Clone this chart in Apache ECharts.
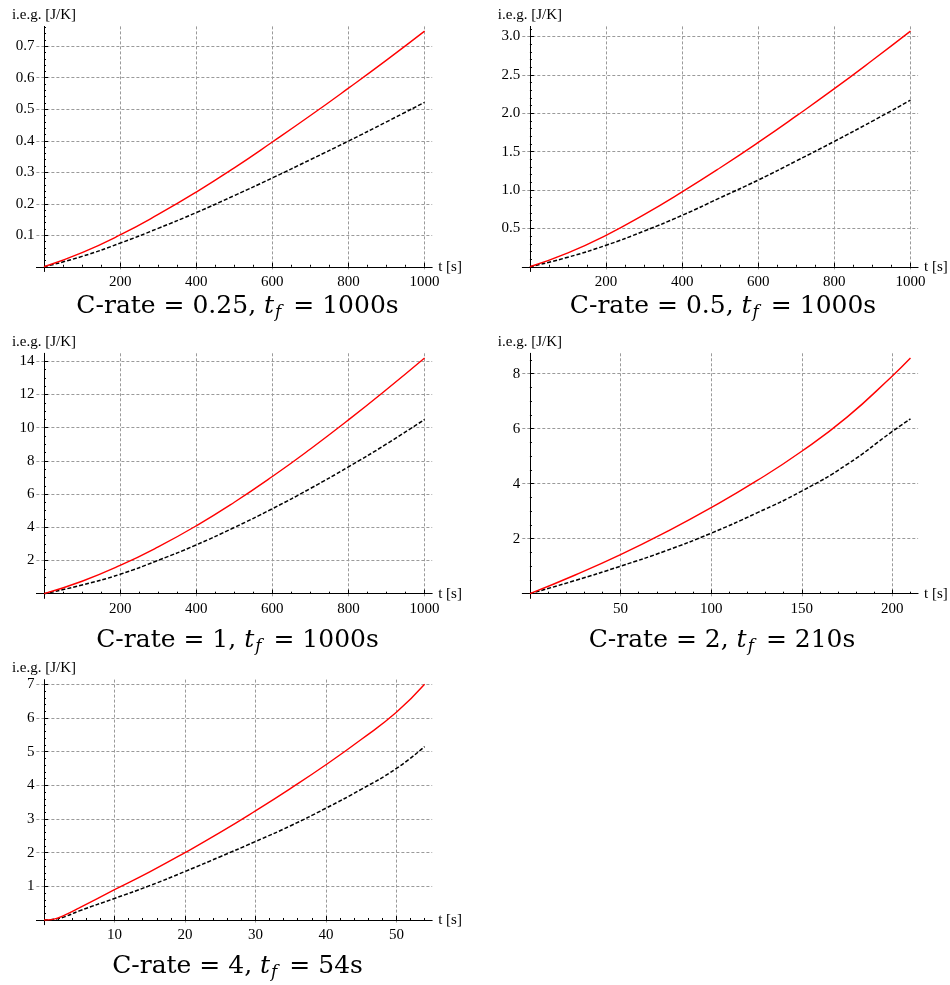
<!DOCTYPE html>
<html>
<head>
<meta charset="utf-8">
<script src="https://cdn.jsdelivr.net/npm/echarts@6/dist/echarts.min.js"></script>
<style>
html, body { margin: 0; padding: 0; background: #fff; }
#chart { width: 950px; height: 985px; }
</style>
</head>
<body>
<div id="chart"></div>
<script>
// ---- data: entropy generation vs time, one block per C-rate ----
// C-rate = 0.25, t_f = 1000 s
const tA = [0, 100, 200, 300, 400, 500, 600, 700, 800, 900, 1000];
const solidA = [0, 0.045, 0.101, 0.166, 0.237, 0.314, 0.396, 0.480, 0.567, 0.656, 0.748];
const dashedA = [0, 0.033, 0.075, 0.122, 0.172, 0.226, 0.282, 0.340, 0.399, 0.460, 0.522];
const xTicksA = [200, 400, 600, 800, 1000];
const yTicksA = [0.1, 0.2, 0.3, 0.4, 0.5, 0.6, 0.7];

// C-rate = 0.5, t_f = 1000 s
const tB = [0, 100, 200, 300, 400, 500, 600, 700, 800, 900, 1000];
const solidB = [0, 0.18, 0.41, 0.68, 0.976, 1.29, 1.62, 1.965, 2.32, 2.69, 3.07];
const dashedB = [0, 0.125, 0.28, 0.465, 0.67, 0.899, 1.13, 1.379, 1.634, 1.898, 2.17];
const xTicksB = [200, 400, 600, 800, 1000];
const yTicksB = [0.5, 1.0, 1.5, 2.0, 2.5, 3.0];

// C-rate = 1, t_f = 1000 s
const tC = [0, 100, 200, 300, 400, 500, 600, 700, 800, 900, 1000];
const solidC = [0, 0.75, 1.7, 2.82, 4.09, 5.51, 7.06, 8.72, 10.47, 12.3, 14.2];
const dashedC = [0, 0.52, 1.17, 2.01, 2.94, 3.99, 5.12, 6.34, 7.64, 9.02, 10.5];
const xTicksC = [200, 400, 600, 800, 1000];
const yTicksC = [2, 4, 6, 8, 10, 12, 14];

// C-rate = 2, t_f = 210 s
const tD = [0, 25, 50, 75, 100, 125, 150, 175, 200, 210];
const solidD = [0, 0.68, 1.42, 2.24, 3.13, 4.1, 5.18, 6.42, 7.92, 8.57];
const dashedD = [0, 0.48, 1.0, 1.56, 2.2, 2.93, 3.73, 4.7, 5.9, 6.36];
const xTicksD = [50, 100, 150, 200];
const yTicksD = [2, 4, 6, 8];

// C-rate = 4, t_f = 54 s
const tE = [0, 1, 2, 3, 5, 10, 15, 20, 25, 30, 35, 40, 45, 50, 54];
const solidE = [0, 0.01, 0.06, 0.15, 0.36, 0.9, 1.43, 2.0, 2.6, 3.24, 3.91, 4.61, 5.36, 6.17, 7.0];
const dashedE = [0, 0.01, 0.04, 0.1, 0.27, 0.64, 1.02, 1.44, 1.88, 2.33, 2.8, 3.32, 3.88, 4.5, 5.15];
const xTicksE = [10, 20, 30, 40, 50];
const yTicksE = [1, 2, 3, 4, 5, 6, 7];

// minor tick spacing per panel (x, y)
const minorStepX = [50, 50, 50, 10, 2];
const minorStepY = [0.02, 0.1, 0.5, 0.5, 0.2];
const yDecimals = [1, 1, 0, 0, 0];

const cRates = ['0.25', '0.5', '1', '2', '4'];
const finalTimes = ['1000s', '1000s', '1000s', '210s', '54s'];

// ---- layout ----
const PLOT_W = 395.8, PLOT_H = 245.1;
const gridPos = [
  { left: 36.4, top: 26.4 },
  { left: 522.3, top: 26.4 },
  { left: 36.4, top: 353.3 },
  { left: 522.3, top: 353.3 },
  { left: 36.4, top: 679.6 }
];
const titlePos = [
  { x: 237.5, y: 291 },
  { x: 723, y: 291 },
  { x: 237.5, y: 625 },
  { x: 722, y: 625 },
  { x: 237.5, y: 951 }
];

const SERIF = '"Liberation Serif", "Times New Roman", serif';
const TITLE_FONT = '"DejaVu Serif", serif';
const GRID_LINE = { color: '#9a9a9a', width: 1, type: [3, 2] };

const panels = [
  { t: tA, solid: solidA, dashed: dashedA, xt: xTicksA, yt: yTicksA },
  { t: tB, solid: solidB, dashed: dashedB, xt: xTicksB, yt: yTicksB },
  { t: tC, solid: solidC, dashed: dashedC, xt: xTicksC, yt: yTicksC },
  { t: tD, solid: solidD, dashed: dashedD, xt: xTicksD, yt: yTicksD },
  { t: tE, solid: solidE, dashed: dashedE, xt: xTicksE, yt: yTicksE }
];

function minorValues(step, hi, majors) {
  const out = [];
  for (let k = 1; k * step <= hi + 1e-9; k++) {
    const v = +(k * step).toFixed(6);
    if (v <= hi && !majors.some(m => Math.abs(m - v) < 1e-9)) out.push(v);
  }
  return out;
}

const grids = [], xAxes = [], yAxes = [], series = [], titles = [];

panels.forEach((p, i) => {
  const tMax = Math.max(...p.t);
  const vMax = Math.max(...p.solid, ...p.dashed);
  // 2% padding on every side of the plotted range
  const xMin = -0.02 * tMax, xMax = tMax * 1.02;
  const yMin = -0.02 * vMax, yMax = vMax * 1.02;

  grids.push({
    left: gridPos[i].left, top: gridPos[i].top,
    width: PLOT_W, height: PLOT_H,
    containLabel: false, outerBoundsMode: 'none'
  });

  const mainX = 2 * i, mainY = 2 * i;
  const labelStyle = { fontFamily: SERIF, fontSize: 15, color: '#000' };

  // main x axis: line, major ticks, labels, dashed grid
  xAxes.push({
    type: 'value', gridIndex: i, min: xMin, max: xMax, position: 'bottom',
    axisLine: { show: true, onZero: true, onZeroAxisIndex: mainY, lineStyle: { color: '#000', width: 1 } },
    axisTick: { show: true, inside: true, length: 4, customValues: p.xt, lineStyle: { color: '#000', width: 1 } },
    axisLabel: { show: true, customValues: p.xt, margin: 3, ...labelStyle, formatter: v => String(v) },
    splitLine: { show: true, lineStyle: GRID_LINE },
    name: 't [s]', nameLocation: 'end', nameGap: 6,
    nameTextStyle: { ...labelStyle, align: 'left', verticalAlign: 'middle' }
  });
  // minor x ticks
  xAxes.push({
    type: 'value', gridIndex: i, min: xMin, max: xMax, position: 'bottom',
    axisLine: { show: false, onZero: true, onZeroAxisIndex: mainY },
    axisTick: { show: true, inside: true, length: 2, customValues: minorValues(minorStepX[i], xMax, p.xt), lineStyle: { color: '#000', width: 1 } },
    axisLabel: { show: false },
    splitLine: { show: false }
  });

  yAxes.push({
    type: 'value', gridIndex: i, min: yMin, max: yMax, position: 'left',
    axisLine: { show: true, onZero: true, onZeroAxisIndex: mainX, lineStyle: { color: '#000', width: 1 } },
    axisTick: { show: true, inside: true, length: 4, customValues: p.yt, lineStyle: { color: '#000', width: 1 } },
    axisLabel: { show: true, customValues: p.yt, margin: 2, ...labelStyle, formatter: v => v.toFixed(yDecimals[i]) },
    splitLine: { show: true, lineStyle: GRID_LINE },
    name: 'i.e.g. [J/K]', nameLocation: 'end', nameGap: 4,
    nameTextStyle: { ...labelStyle, align: 'center', verticalAlign: 'bottom' }
  });
  // minor y ticks
  yAxes.push({
    type: 'value', gridIndex: i, min: yMin, max: yMax, position: 'left',
    axisLine: { show: false, onZero: true, onZeroAxisIndex: mainX },
    axisTick: { show: true, inside: true, length: 2, customValues: minorValues(minorStepY[i], yMax, p.yt), lineStyle: { color: '#000', width: 1 } },
    axisLabel: { show: false },
    splitLine: { show: false }
  });

  series.push({
    name: 'dashed', type: 'line', xAxisIndex: mainX, yAxisIndex: mainY,
    data: p.t.map((x, k) => [x, p.dashed[k]]),
    smooth: 0.5, symbol: 'none', clip: false,
    lineStyle: { color: '#000', width: 1.5, type: [4, 2] }, z: 3
  });
  series.push({
    name: 'solid', type: 'line', xAxisIndex: mainX, yAxisIndex: mainY,
    data: p.t.map((x, k) => [x, p.solid[k]]),
    smooth: 0.5, symbol: 'none', clip: false,
    lineStyle: { color: '#ff0000', width: 1.4 }, z: 4
  });

  const tf = { fontFamily: TITLE_FONT, fontSize: 25, fontWeight: 'normal', color: '#000', lineHeight: 30 };
  titles.push({
    text: '{n|C-rate = ' + cRates[i] + ', }{i|t}{s|f}{n| = ' + finalTimes[i] + '}',
    left: titlePos[i].x, top: titlePos[i].y, textAlign: 'center', padding: 0,
    textStyle: {
      fontWeight: 'normal',
      rich: {
        n: tf,
        i: { ...tf, fontStyle: 'italic' },
        s: { ...tf, fontSize: 17, fontStyle: 'italic', lineHeight: 17, verticalAlign: 'bottom', padding: [0, 4, 0, 1] }
      }
    }
  });
});

const chart = echarts.init(document.getElementById('chart'), null, { renderer: 'canvas' });
chart.setOption({
  animation: false,
  backgroundColor: '#fff',
  title: titles,
  grid: grids,
  xAxis: xAxes,
  yAxis: yAxes,
  series: series
});
</script>
</body>
</html>
